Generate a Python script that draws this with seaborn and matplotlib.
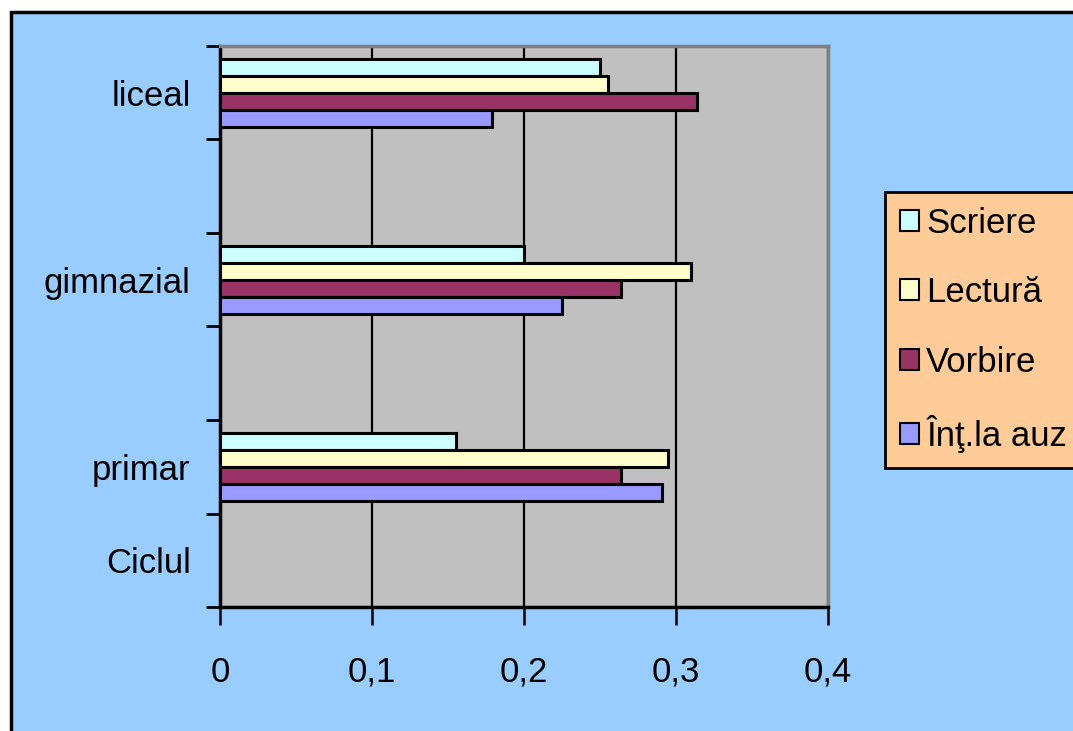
import numpy as np
import pandas as pd
import seaborn as sns
import matplotlib
matplotlib.use('Agg')
import matplotlib.pyplot as plt
from matplotlib.patches import Rectangle
from matplotlib.ticker import FixedLocator, FuncFormatter

# categorii (de sus in jos); cele goale sunt doar spatii
categories = ['liceal', ' ', 'gimnazial', '  ', 'primar', 'Ciclul']
series = ['Scriere', 'Lectură', 'Vorbire', 'Înţ.la auz']

scriere = [0.250, np.nan, 0.200, np.nan, 0.155, np.nan]
lectura = [0.255, np.nan, 0.310, np.nan, 0.295, np.nan]
vorbire = [0.314, np.nan, 0.264, np.nan, 0.264, np.nan]
int_auz = [0.179, np.nan, 0.225, np.nan, 0.291, np.nan]

colors = ['#CCFFFF', '#FFFFCC', '#993366', '#9999FF']
x_ticks = [0, 0.1, 0.2, 0.3, 0.4]

df = pd.DataFrame({
    'ciclu': categories * 4,
    'serie': np.repeat(series, len(categories)),
    'valoare': scriere + lectura + vorbire + int_auz,
})

sns.set_style('white')
plt.rcParams['font.family'] = ['Liberation Sans', 'DejaVu Sans']
plt.rcParams['text.color'] = 'black'
plt.rcParams['xtick.color'] = 'black'
plt.rcParams['ytick.color'] = 'black'
plt.rcParams['axes.labelcolor'] = 'black'

fig = plt.figure(figsize=(10.73, 7.31), dpi=100, facecolor='white')
# chenarul albastru al graficului
fig.patches.append(Rectangle((11 / 1073, -0.2), 1.5, 1.2 - 13 / 731 + 0.002,
                             transform=fig.transFigure, facecolor='#99CCFF',
                             edgecolor='black', linewidth=2.5, zorder=-10))

ax = fig.add_axes([220 / 1073, 1 - 607 / 731, 608 / 1073, 561 / 731])
sns.barplot(data=df, x='valoare', y='ciclu', hue='serie', order=categories,
            hue_order=series, palette=colors, orient='h', width=0.73,
            edgecolor='black', linewidth=2.2, saturation=1, errorbar=None, ax=ax,
            zorder=3)

ax.set_facecolor('#C0C0C0')
ax.set_xlim(0, 0.4)
ax.set_ylim(len(categories) - 0.5, -0.5)
ax.set_xlabel('')
ax.set_ylabel('')

ax.xaxis.set_major_locator(FixedLocator(x_ticks))
ax.xaxis.set_major_formatter(FuncFormatter(lambda v, p: ('%g' % v).replace('.', ',')))
ax.tick_params(axis='x', bottom=True, direction='out', length=13, width=1.8,
               color='black', pad=22, labelsize=25, labelcolor='black')
ax.grid(axis='x', color='black', linewidth=1.6, zorder=1)
ax.set_axisbelow(True)

# etichete fara tick-uri, tick-uri intre categorii
ax.tick_params(axis='y', which='major', left=True, length=0, pad=21, labelsize=25,
               labelcolor='black')
ax.yaxis.set_minor_locator(FixedLocator(np.arange(-0.5, len(categories), 1)))
ax.tick_params(axis='y', which='minor', left=True, direction='out', length=10,
               width=2, color='black')

for side in ['left', 'bottom']:
    ax.spines[side].set_color('black')
    ax.spines[side].set_linewidth(2.5)
for side in ['top', 'right']:
    ax.spines[side].set_color('#808080')
    ax.spines[side].set_linewidth(2.5)
    ax.spines[side].set_visible(True)

handles, labels = ax.get_legend_handles_labels()
leg = ax.legend(handles, labels, loc='upper left',
                bbox_to_anchor=(885 / 1073, 1 - 192 / 731),
                bbox_transform=fig.transFigure, fontsize=25, frameon=True,
                fancybox=False, facecolor='#FFCC99', edgecolor='black',
                framealpha=1, handlelength=0.55, handleheight=0.55,
                handletextpad=0.22, labelspacing=1.05, borderpad=0.42,
                borderaxespad=0)
leg.get_frame().set_linewidth(2)
for h in leg.legend_handles:
    h.set_linewidth(1.5)

fig.savefig('out.png', dpi=100, facecolor=fig.get_facecolor())
